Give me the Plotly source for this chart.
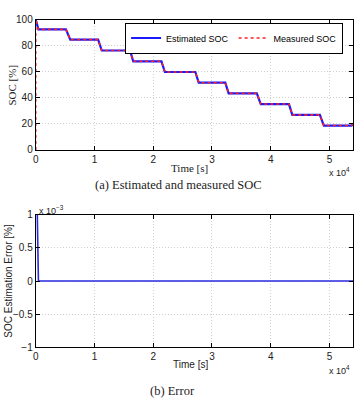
import plotly.graph_objects as go

# ---- data ----
time_s = [0, 460, 5140, 5880, 10620, 11240, 16050, 16600, 21400, 21980, 27170, 27740,
          32260, 32830, 37630, 38300, 43100, 43670, 48360, 49040, 53700, 54000]
soc_est = [100, 92.5, 92.5, 84.6, 84.6, 76.3, 76.3, 68.0, 68.0, 59.8, 59.8, 51.6,
           51.6, 43.4, 43.4, 35.2, 35.2, 26.9, 26.9, 18.7, 18.7, 19.4]
meas_time = [0] + time_s
soc_meas = [0] + soc_est

err_time = [0, 250, 460, 54000]
err_val = [0.0011, 0.0011, 0.0, 0.0]

x_tickvals = [0, 10000, 20000, 30000, 40000, 50000]
x_ticktext = ["0", "1", "2", "3", "4", "5"]
soc_ticks = [0, 20, 40, 60, 80, 100]
err_tickvals = [-0.001, -0.0005, 0, 0.0005, 0.001]
err_ticktext = ["\u22121", "\u22120.5", "0", "0.5", "1"]

W, H = 354, 408
SANS = "Liberation Sans, Arial, sans-serif"
SERIF = "Liberation Serif, Times New Roman, serif"

def px(x):
    return x / W

def py(y):
    return 1 - y / H

fig = go.Figure()
fig.add_trace(go.Scatter(x=time_s, y=soc_est, mode="lines", name="Estimated SOC",
                         line=dict(color="#1a1aff", width=2.2), xaxis="x", yaxis="y"))
fig.add_trace(go.Scatter(x=meas_time, y=soc_meas, mode="lines", name="Measured SOC",
                         line=dict(color="#ff2020", width=1.6, dash="dot"), xaxis="x", yaxis="y"))
fig.add_trace(go.Scatter(x=err_time, y=err_val, mode="lines", showlegend=False,
                         line=dict(color="#2a2ae0", width=1.6), xaxis="x2", yaxis="y2"))

axis_common = dict(showline=True, linecolor="black", linewidth=1, mirror="ticks",
                   ticks="inside", ticklen=4, tickcolor="black",
                   showgrid=True, gridcolor="#d0d0d0", griddash="1px,2px", gridwidth=1,
                   zeroline=False, tickfont=dict(family=SANS, size=10, color="#222"))

fig.update_layout(
    width=W, height=H, margin=dict(l=0, r=0, t=0, b=0),
    paper_bgcolor="white", plot_bgcolor="white",
    xaxis=dict(domain=[px(33), px(353)], range=[0, 54000], anchor="y",
               tickvals=x_tickvals, ticktext=x_ticktext, **axis_common),
    yaxis=dict(domain=[py(148.3), py(14)], range=[0, 100], anchor="x",
               tickvals=soc_ticks, **axis_common),
    xaxis2=dict(domain=[px(33), px(353)], range=[0, 54000], anchor="y2",
                tickvals=x_tickvals, ticktext=x_ticktext, **axis_common),
    yaxis2=dict(domain=[py(351.7), py(215)], range=[-0.001, 0.001], anchor="x2",
                tickvals=err_tickvals, ticktext=err_ticktext, **axis_common),
    legend=dict(orientation="h", x=px(343), y=py(17), xanchor="right", yanchor="top",
                bgcolor="white", bordercolor="black", borderwidth=1,
                font=dict(family=SANS, size=9, color="black"),
                itemwidth=30, tracegroupgap=0),
    showlegend=True,
)

annots = [
    dict(x=px(188), y=py(167), text="Time [s]", font=dict(family=SERIF, size=11, color="#222")),
    dict(x=px(9), y=py(81), text="SOC [%]", textangle=-90, font=dict(family=SERIF, size=11, color="#222")),
    dict(x=px(339), y=py(171), text="x 10<sup>4</sup>", font=dict(family=SANS, size=9, color="#222")),
    dict(x=px(177), y=py(184), text="(a) Estimated and measured SOC", font=dict(family=SERIF, size=12.5, color="#222")),
    dict(x=px(189), y=py(369), text="Time [s]", font=dict(family=SANS, size=10, color="#222")),
    dict(x=px(6), y=py(283), text="SOC Estimation Error [%]", textangle=-90, font=dict(family=SANS, size=10, color="#222")),
    dict(x=px(339), y=py(375), text="x 10<sup>4</sup>", font=dict(family=SANS, size=9, color="#222")),
    dict(x=px(49), y=py(210), text="x 10<sup>\u22123</sup>", font=dict(family=SANS, size=9, color="#222")),
    dict(x=px(171), y=py(397), text="(b) Error", font=dict(family=SERIF, size=12.5, color="#222")),
]
for a in annots:
    fig.add_annotation(xref="paper", yref="paper", showarrow=False, xanchor="center", yanchor="middle", **a)

fig.write_html("out.html")
